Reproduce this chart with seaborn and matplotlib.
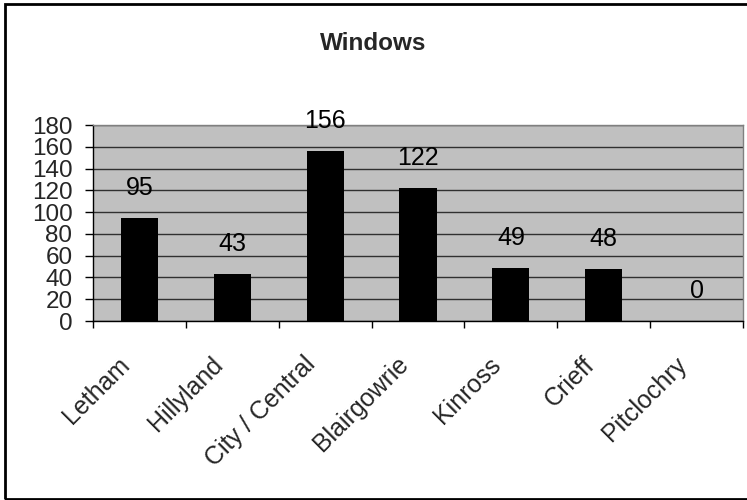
import matplotlib
matplotlib.use("Agg")
import matplotlib.pyplot as plt
import matplotlib.transforms as mtransforms
import seaborn as sns
import pandas as pd
from matplotlib.patches import Rectangle

sites = ["Letham", "Hillyland", "City / Central", "Blairgowrie", "Kinross", "Crieff", "Pitclochry"]
windows = [95, 43, 156, 122, 49, 48, 0]
y_ticks = [0, 20, 40, 60, 80, 100, 120, 140, 160, 180]
title = "Windows"

df = pd.DataFrame({"site": sites, "windows": windows})

sns.set_theme(style="white")
plt.rcParams["font.family"] = ["Liberation Sans", "DejaVu Sans"]

FS = 17.5

fig = plt.figure(figsize=(7.47, 5.0), dpi=100)
ax = fig.add_axes([93 / 747, 179 / 500, 650 / 747, 196 / 500])
ax.set_facecolor("#C0C0C0")

sns.barplot(data=df, x="site", y="windows", color="black", width=0.4,
            saturation=1, linewidth=0, ax=ax, zorder=3)

ax.set_ylim(0, 180)
ax.set_xlim(-0.5, len(sites) - 0.5)
ax.set_yticks(y_ticks)
ax.set_yticklabels([str(t) for t in y_ticks], fontsize=FS)
ax.yaxis.grid(True, color="#303030", linewidth=1.0, zorder=1)
ax.set_axisbelow(True)
ax.set_xlabel("")
ax.set_ylabel("")

# tick marks sit on category boundaries, labels under category centres
ax.set_xticks([i - 0.5 for i in range(len(sites) + 1)], minor=False)
ax.set_xticklabels([])
ax.set_xticks(range(len(sites)), minor=True)
ax.set_xticklabels(sites, minor=True, rotation=45, ha="right",
                   rotation_mode="anchor", fontsize=18)
ax.tick_params(axis="x", which="major", direction="out", length=5,
               width=1, color="black", bottom=True)
ax.tick_params(axis="x", which="minor", length=0, pad=22.5)
ax.tick_params(axis="y", direction="out", length=5.8, width=1, color="black",
               left=True, pad=9)

# nudge the slanted category labels to the left
shift = mtransforms.ScaledTranslation(-22 / 100, 0, fig.dpi_scale_trans)
for lbl in ax.get_xticklabels(minor=True):
    lbl.set_transform(lbl.get_transform() + shift)

for side in ["left", "bottom"]:
    ax.spines[side].set_color("black")
    ax.spines[side].set_linewidth(1.0)
for side in ["right", "top"]:
    ax.spines[side].set_color("#808080")
    ax.spines[side].set_linewidth(1.0)

for i, v in enumerate(windows):
    ax.annotate(str(v), xy=(i, v), xytext=(0, 21.5), textcoords="offset points",
                ha="center", va="center", fontsize=18, color="black",
                annotation_clip=False, zorder=4)

fig.text(0.5, 1 - 44 / 500, title, ha="center", va="center",
         fontsize=FS, fontweight="bold")

fig.patches.append(Rectangle((5 / 747, 1 / 500), 745 / 747, 495 / 500,
                             transform=fig.transFigure, fill=False,
                             edgecolor="black", linewidth=2))

fig.savefig("out.png", dpi=100)
